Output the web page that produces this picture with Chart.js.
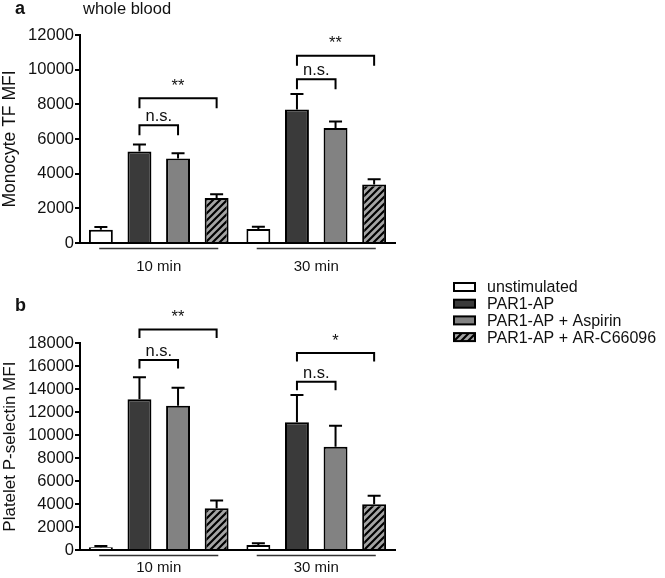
<!DOCTYPE html>
<html>
<head>
<meta charset="utf-8">
<script src="https://cdn.jsdelivr.net/npm/chart.js@4.4.1/dist/chart.umd.min.js"></script>
<style>
  html, body { margin: 0; padding: 0; background: #fff; }
  #wrap { position: relative; width: 665px; height: 578px; }
  #chartA { position: absolute; left: 0; top: 0; }
  #chartB { position: absolute; left: 0; top: 270px; }
</style>
</head>
<body>
<div id="wrap">
  <canvas id="chartA" width="420" height="280"></canvas>
  <canvas id="chartB" width="665" height="308"></canvas>
</div>
<script>
// categories / legend
const timeLabels = ['10 min', '30 min'];
const treatments = ['unstimulated', 'PAR1-AP', 'PAR1-AP + Aspirin', 'PAR1-AP + AR-C66096'];

// panel a - monocyte TF (mean, SEM)
const tfUnstim = [770, 810];
const tfPar1 = [5280, 7700];
const tfAspirin = [4880, 6630];
const tfArc = [2600, 3380];
const tfUnstimErr = [160, 130];
const tfPar1Err = [400, 900];
const tfAspirinErr = [300, 380];
const tfArcErr = [210, 300];
const tfTicks = [0, 2000, 4000, 6000, 8000, 10000, 12000];
const tfBrackets = [
  { group: 0, from: 1, to: 2, level: 6800, text: 'n.s.' },
  { group: 0, from: 1, to: 3, level: 8350, text: '**' },
  { group: 1, from: 1, to: 2, level: 9450, text: 'n.s.' },
  { group: 1, from: 1, to: 3, level: 10800, text: '**' }
];

// panel b - platelet P-selectin (mean, SEM)
const psUnstim = [250, 430];
const psPar1 = [13120, 11120];
const psAspirin = [12570, 9000];
const psArc = [3630, 3980];
const psUnstimErr = [90, 150];
const psPar1Err = [1920, 2380];
const psAspirinErr = [1570, 1830];
const psArcErr = [670, 750];
const psTicks = [0, 2000, 4000, 6000, 8000, 10000, 12000, 14000, 16000, 18000];
const psBrackets = [
  { group: 0, from: 1, to: 2, level: 16550, text: 'n.s.' },
  { group: 0, from: 1, to: 3, level: 19200, text: '**' },
  { group: 1, from: 1, to: 2, level: 14650, text: 'n.s.' },
  { group: 1, from: 1, to: 3, level: 17150, text: '*' }
];

const FONT = "'Liberation Sans', Arial, sans-serif";
Chart.defaults.font.family = FONT;
Chart.defaults.color = '#111';

// diagonal hatch for AR-C66096
function makeHatch() {
  const c = document.createElement('canvas');
  c.width = 7; c.height = 7;
  const g = c.getContext('2d');
  g.fillStyle = '#a4a4a4';
  g.fillRect(0, 0, 7, 7);
  g.strokeStyle = '#000';
  g.lineWidth = 2.2;
  g.beginPath();
  g.moveTo(-1, 8); g.lineTo(8, -1);
  g.moveTo(-2, 2); g.lineTo(2, -2);
  g.moveTo(5, 9); g.lineTo(9, 5);
  g.stroke();
  return g.createPattern(c, 'repeat');
}
const hatch = makeHatch();
const fills = ['#ffffff', '#3a3a3a', '#828282', hatch];

function makeDatasets(values, errors) {
  return values.map((v, i) => ({
    label: treatments[i],
    data: v,
    errors: errors[i],
    backgroundColor: fills[i],
    borderColor: '#000',
    borderWidth: 2,
    borderSkipped: 'bottom',
    barPercentage: 0.62,
    categoryPercentage: 0.98
  }));
}

// upper SEM whiskers
const errorBars = {
  id: 'errorBars',
  afterDatasetsDraw(chart) {
    const ctx = chart.ctx, y = chart.scales.y;
    ctx.save();
    ctx.strokeStyle = '#000';
    ctx.lineWidth = 2;
    chart.data.datasets.forEach((ds, i) => {
      chart.getDatasetMeta(i).data.forEach((bar, j) => {
        const top = y.getPixelForValue(ds.data[j] + ds.errors[j]);
        ctx.beginPath();
        ctx.moveTo(bar.x, bar.y);
        ctx.lineTo(bar.x, top);
        ctx.moveTo(bar.x - 6.5, top);
        ctx.lineTo(bar.x + 6.5, top);
        ctx.stroke();
      });
    });
    ctx.restore();
  }
};

// lines under each time group
const groupLines = {
  id: 'groupLines',
  afterDraw(chart) {
    const ctx = chart.ctx, x = chart.scales.x;
    const w = x.width / timeLabels.length;
    const yy = chart.chartArea.bottom + 5.5;
    ctx.save();
    ctx.strokeStyle = '#333';
    ctx.lineWidth = 1.5;
    timeLabels.forEach((_, j) => {
      const c = x.getPixelForValue(j);
      ctx.beginPath();
      ctx.moveTo(c - w * 0.378, yy);
      ctx.lineTo(c + w * 0.378, yy);
      ctx.stroke();
    });
    ctx.restore();
  }
};

// significance brackets
function bracketPlugin(list, drop) {
  return {
    id: 'brackets',
    afterDraw(chart) {
      const ctx = chart.ctx, y = chart.scales.y;
      ctx.save();
      ctx.strokeStyle = '#000';
      ctx.fillStyle = '#111';
      ctx.lineWidth = 2;
      ctx.font = '16.5px ' + FONT;
      ctx.textAlign = 'center';
      ctx.textBaseline = 'alphabetic';
      list.forEach(b => {
        const x1 = chart.getDatasetMeta(b.from).data[b.group].x;
        const x2 = chart.getDatasetMeta(b.to).data[b.group].x;
        const py = y.getPixelForValue(b.level);
        ctx.beginPath();
        ctx.moveTo(x1, py + drop);
        ctx.lineTo(x1, py);
        ctx.lineTo(x2, py);
        ctx.lineTo(x2, py + drop);
        ctx.stroke();
        const off = b.text === 'n.s.' ? 4 : 7.5;
        ctx.fillText(b.text, (x1 + x2) / 2, py - off);
      });
      ctx.restore();
    }
  };
}

function panelText(letter, ly, extra) {
  return {
    id: 'panelText',
    afterDraw(chart) {
      const ctx = chart.ctx;
      ctx.save();
      ctx.fillStyle = '#111';
      ctx.textBaseline = 'alphabetic';
      ctx.font = 'bold 18px ' + FONT;
      ctx.fillText(letter, 15, ly);
      if (extra) {
        ctx.font = '16.5px ' + FONT;
        ctx.fillText(extra, 83, ly);
      }
      ctx.restore();
    }
  };
}

// legend on the right of panel b
const sideLegend = {
  id: 'sideLegend',
  afterDraw(chart) {
    const ctx = chart.ctx;
    ctx.save();
    ctx.font = '16px ' + FONT;
    ctx.textBaseline = 'middle';
    chart.data.datasets.forEach((ds, i) => {
      const cy = 17 + i * 16.7;
      ctx.fillStyle = ds.backgroundColor;
      ctx.fillRect(454, cy - 4, 21, 8);
      ctx.strokeStyle = '#000';
      ctx.lineWidth = 2;
      ctx.strokeRect(454, cy - 4, 21, 8);
      ctx.fillStyle = '#111';
      ctx.fillText(ds.label, 487, cy + 1);
    });
    ctx.restore();
  }
};

function makeOptions(opt) {
  return {
    responsive: false,
    animation: false,
    layout: { padding: { left: 0, top: opt.top, right: opt.right, bottom: 0 } },
    plugins: { legend: { display: false }, tooltip: { enabled: false } },
    scales: {
      x: {
        ticks: { color: '#111', font: { size: 15 }, padding: opt.labelPad },
        grid: { display: false, drawTicks: false },
        border: { color: '#000', width: 2 },
        afterFit(s) { s.height = opt.xHeight; }
      },
      y: {
        min: 0,
        max: opt.ticks[opt.ticks.length - 1],
        afterBuildTicks(s) { s.ticks = opt.ticks.map(v => ({ value: v })); },
        ticks: { color: '#111', font: { size: 16.5 }, padding: 1, callback: v => String(v) },
        grid: { drawOnChartArea: false, drawTicks: true, tickLength: 5, color: '#000', lineWidth: 2 },
        border: { color: '#000', width: 2 },
        title: { display: true, text: opt.yTitle, color: '#111', font: { size: opt.titleSize }, padding: 0 },
        afterFit(s) { s.width = 80; }
      }
    }
  };
}

new Chart(document.getElementById('chartA'), {
  type: 'bar',
  data: {
    labels: timeLabels,
    datasets: makeDatasets([tfUnstim, tfPar1, tfAspirin, tfArc],
                           [tfUnstimErr, tfPar1Err, tfAspirinErr, tfArcErr])
  },
  options: makeOptions({ top: 35, right: 25, xHeight: 37, labelPad: 15, ticks: tfTicks,
                         yTitle: 'Monocyte TF MFI', titleSize: 17.5 }),
  plugins: [errorBars, groupLines, bracketPlugin(tfBrackets, 10), panelText('a', 13.5, 'whole blood')]
});

new Chart(document.getElementById('chartB'), {
  type: 'bar',
  data: {
    labels: timeLabels,
    datasets: makeDatasets([psUnstim, psPar1, psAspirin, psArc],
                           [psUnstimErr, psPar1Err, psAspirinErr, psArcErr])
  },
  options: makeOptions({ top: 73.3, right: 270, xHeight: 28, labelPad: 9, ticks: psTicks,
                         yTitle: 'Platelet P-selectin MFI', titleSize: 17 }),
  plugins: [errorBars, groupLines, bracketPlugin(psBrackets, 8.5), panelText('b', 40.5), sideLegend]
});
</script>
</body>
</html>
